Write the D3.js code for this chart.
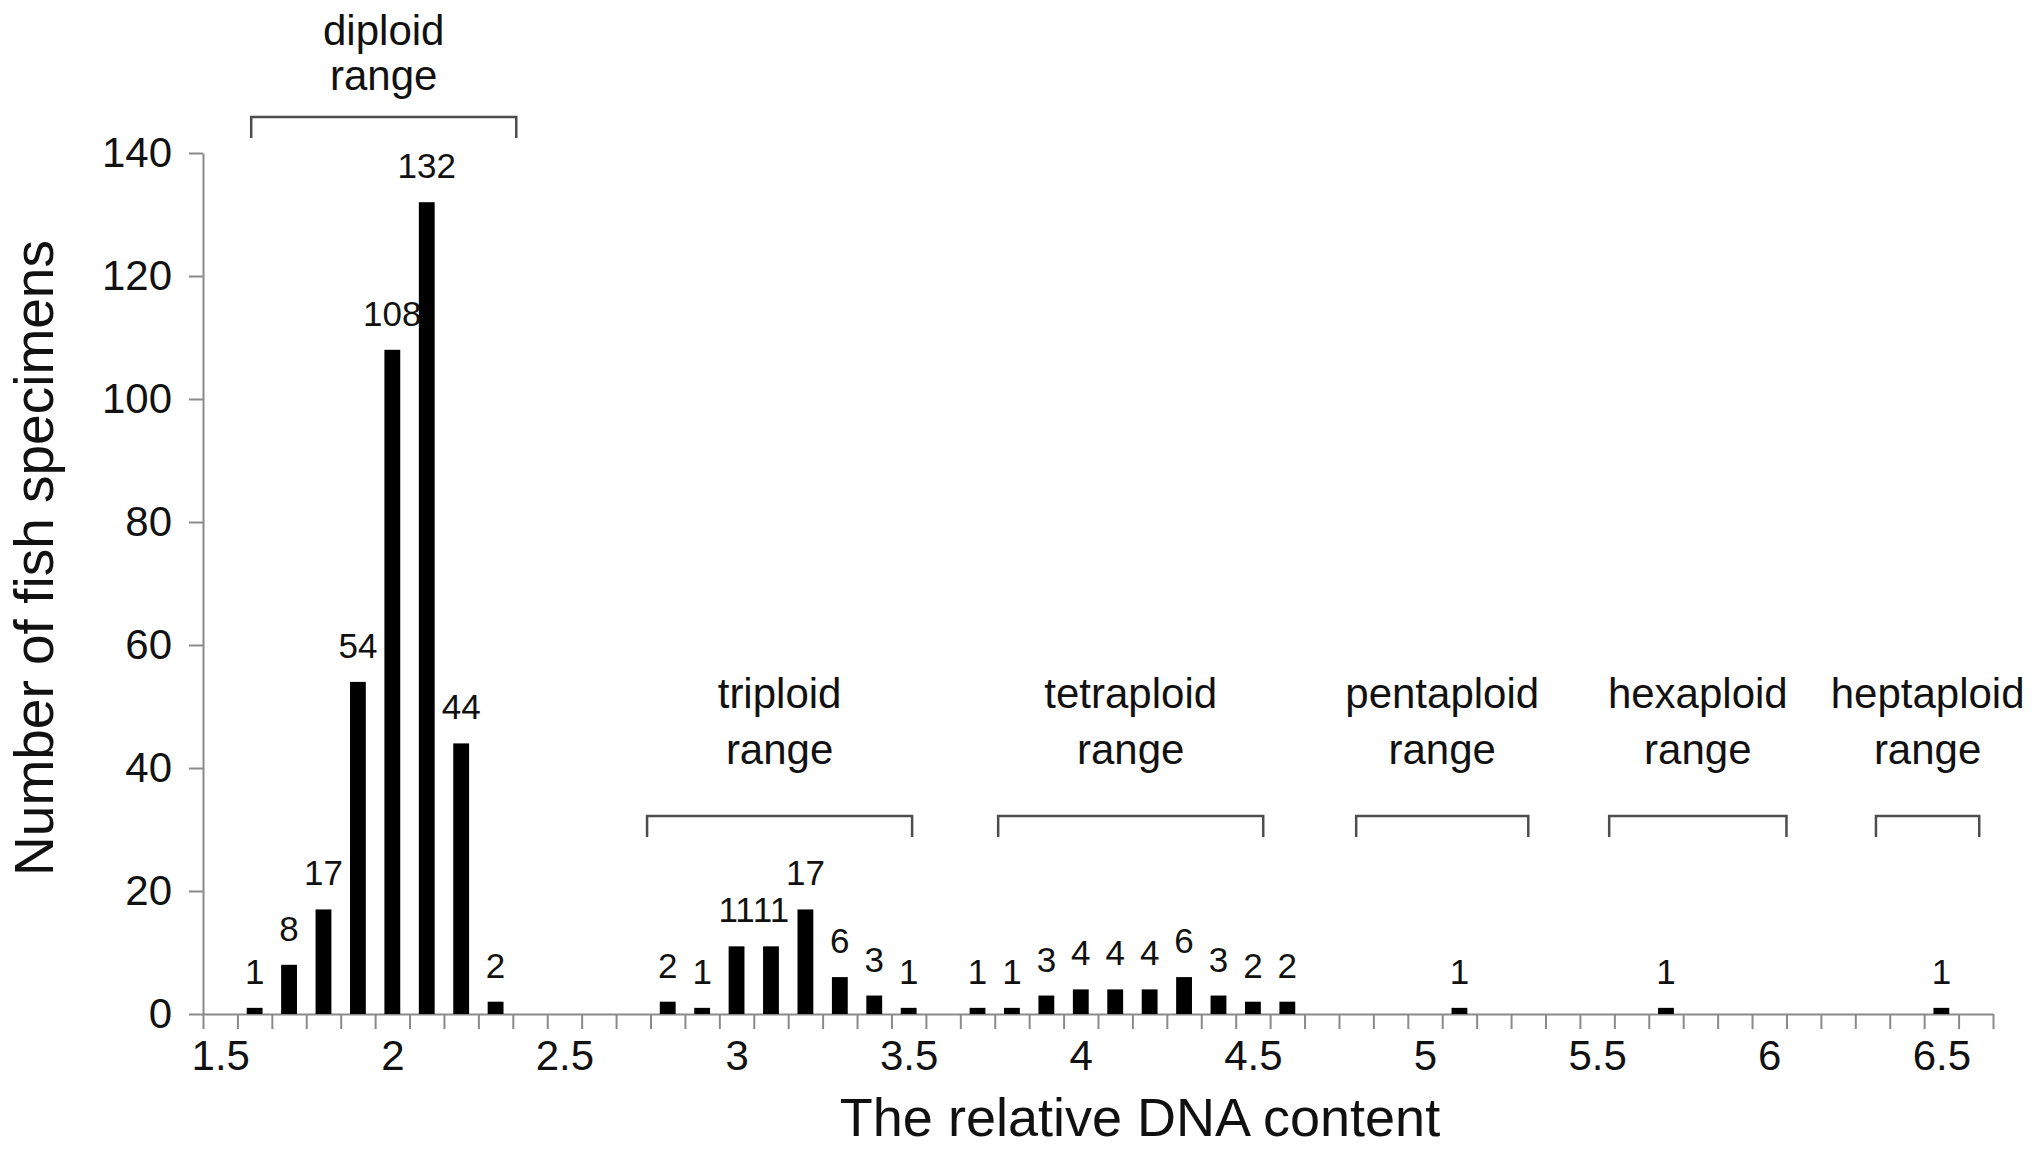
<!DOCTYPE html>
<html>
<head>
<meta charset="utf-8">
<script src="https://cdn.jsdelivr.net/npm/d3@7"></script>
<style>
  body { margin: 0; background: #fff; }
  text { font-family: "Liberation Sans", Arial, sans-serif; fill: #111; }
</style>
</head>
<body>
<div id="chart"></div>
<script>
////////////////////////////////////////////////////////////////////////
// Data

// relative DNA content of each bin (bins are 0.1 wide)
const dnaContent = [1.6, 1.7, 1.8, 1.9, 2.0, 2.1, 2.2, 2.3,
                    2.8, 2.9, 3.0, 3.1, 3.2, 3.3, 3.4, 3.5,
                    3.7, 3.8, 3.9, 4.0, 4.1, 4.2, 4.3, 4.4, 4.5, 4.6,
                    5.1, 5.7, 6.5];
// number of fish specimens in each bin
const specimens = [1, 8, 17, 54, 108, 132, 44, 2,
                   2, 1, 11, 11, 17, 6, 3, 1,
                   1, 1, 3, 4, 4, 4, 6, 3, 2, 2,
                   1, 1, 1];

// ploidy ranges (in DNA content units)
const rangeNames = ["diploid", "triploid", "tetraploid", "pentaploid", "hexaploid", "heptaploid"];
const rangeStart = [1.59, 2.74, 3.76, 4.80, 5.535, 6.31];
const rangeEnd   = [2.36, 3.51, 4.53, 5.30, 6.05, 6.61];
const rangeLevel = ["top", "low", "low", "low", "low", "low"];

// axes
const xDomain = [1.45, 6.65];
const binWidth = 0.1;
const xTickLabels = [1.5, 2, 2.5, 3, 3.5, 4, 4.5, 5, 5.5, 6, 6.5];
const yTicks = [0, 20, 40, 60, 80, 100, 120, 140];

const xTitle = "The relative DNA content";
const yTitle = "Number of fish specimens";

////////////////////////////////////////////////////////////////////////
// Layout

const width = 2044, height = 1151;
const plotLeft = 203, plotRight = 1993;
const plotTop = 153, plotBottom = 1014;

// bracket placement for the two rows of range labels
const bracketLayout = {
  top: { y: 117, line1: -72, line2: -27 },
  low: { y: 816, line1: -108, line2: -52 }
};

const svg = d3.select("#chart")
  .append("svg")
  .attr("width", width)
  .attr("height", height);

svg.append("rect")
  .attr("width", width)
  .attr("height", height)
  .attr("fill", "#fff");

const xScale = d3.scaleLinear()
  .domain(xDomain)
  .range([plotLeft, plotRight]);

const yScale = d3.scaleLinear()
  .domain([0, 140])
  .range([plotBottom, plotTop]);

// bin boundaries for the minor ticks
const nBins = Math.round((xDomain[1] - xDomain[0]) / binWidth);
const binEdges = d3.range(nBins + 1).map(i => +(xDomain[0] + i * binWidth).toFixed(2));

////////////////////////////////////////////////////////////////////////
// Axes

const axisColor = "#8a8a8a";

// x axis: tick marks at every bin edge
svg.append("g")
  .attr("class", "xaxis")
  .attr("transform", `translate(0, ${plotBottom})`)
  .call(d3.axisBottom(xScale)
    .tickValues(binEdges)
    .tickSize(15)
    .tickSizeOuter(0)
    .tickFormat(""));

// x labels at bin centres
svg.append("g")
  .attr("class", "xlabels")
  .attr("transform", `translate(0, ${plotBottom})`)
  .call(d3.axisBottom(xScale)
    .tickValues(xTickLabels)
    .tickSize(0)
    .tickPadding(26)
    .tickFormat(d3.format("")))
  .call(g => g.select(".domain").remove());

// y axis
svg.append("g")
  .attr("class", "yaxis")
  .attr("transform", `translate(${plotLeft}, 0)`)
  .call(d3.axisLeft(yScale)
    .tickValues(yTicks)
    .tickSize(14)
    .tickSizeOuter(0)
    .tickPadding(17));

svg.selectAll(".xaxis path, .xaxis line, .yaxis path, .yaxis line")
  .attr("stroke", axisColor)
  .attr("stroke-width", 2);

svg.selectAll(".xlabels text, .yaxis text")
  .attr("font-family", "Liberation Sans, Arial, sans-serif")
  .attr("font-size", 42)
  .attr("fill", "#111");

svg.selectAll(".xlabels text").attr("dy", "0.71em");

////////////////////////////////////////////////////////////////////////
// Bars and their count labels

const barW = (xScale(binWidth) - xScale(0)) * 0.46;
const bars = dnaContent.map((d, i) => ({ x: d, n: specimens[i] }));

svg.append("g")
  .attr("class", "bars")
  .selectAll("rect")
  .data(bars)
  .join("rect")
  .attr("x", d => xScale(d.x) - barW / 2)
  .attr("y", d => yScale(d.n))
  .attr("width", barW)
  .attr("height", d => yScale(0) - yScale(d.n))
  .attr("fill", "#000");

svg.append("g")
  .attr("class", "barlabels")
  .selectAll("text")
  .data(bars)
  .join("text")
  .attr("x", d => xScale(d.x))
  .attr("y", d => yScale(d.n) - 24)
  .attr("text-anchor", "middle")
  .attr("font-size", 35)
  .text(d => d.n);

////////////////////////////////////////////////////////////////////////
// Ploidy range brackets

const ranges = rangeNames.map((name, i) => ({
  name: name,
  x0: rangeStart[i],
  x1: rangeEnd[i],
  lay: bracketLayout[rangeLevel[i]]
}));

const rg = svg.append("g")
  .attr("class", "ranges")
  .selectAll("g")
  .data(ranges)
  .join("g");

rg.append("path")
  .attr("fill", "none")
  .attr("stroke", "#4d4d4d")
  .attr("stroke-width", 2.5)
  .attr("d", d => {
    const a = xScale(d.x0), b = xScale(d.x1), y = d.lay.y;
    return `M${a},${y + 21}V${y}H${b}V${y + 21}`;
  });

rg.append("text")
  .attr("x", d => (xScale(d.x0) + xScale(d.x1)) / 2)
  .attr("y", d => d.lay.y + d.lay.line1)
  .attr("text-anchor", "middle")
  .attr("font-size", 42)
  .text(d => d.name);

rg.append("text")
  .attr("x", d => (xScale(d.x0) + xScale(d.x1)) / 2)
  .attr("y", d => d.lay.y + d.lay.line2)
  .attr("text-anchor", "middle")
  .attr("font-size", 42)
  .text("range");

////////////////////////////////////////////////////////////////////////
// Titles

svg.append("text")
  .attr("x", (plotLeft + plotRight) / 2 + 42)
  .attr("y", 1136)
  .attr("text-anchor", "middle")
  .attr("font-size", 54)
  .text(xTitle);

svg.append("text")
  .attr("transform", "translate(53, 558) rotate(-90)")
  .attr("text-anchor", "middle")
  .attr("font-size", 55)
  .text(yTitle);
</script>
</body>
</html>
